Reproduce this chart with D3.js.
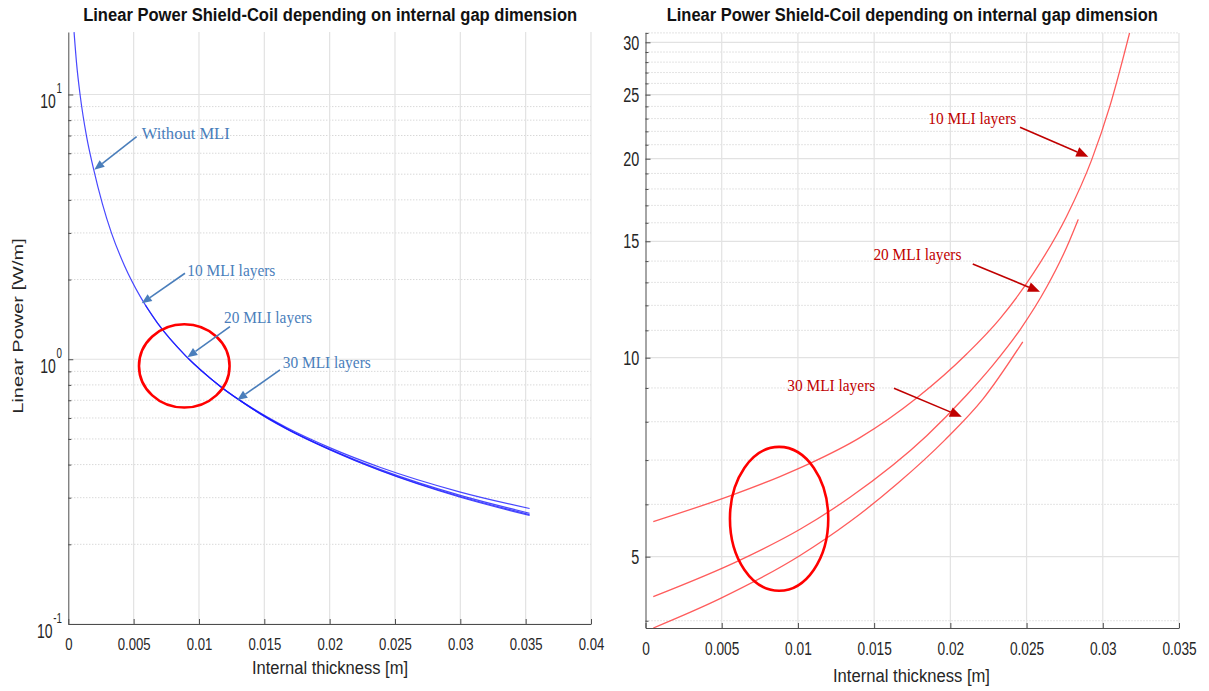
<!DOCTYPE html>
<html>
<head>
<meta charset="utf-8">
<script src="https://cdn.jsdelivr.net/npm/d3@7"></script>
<style>
  html, body { margin: 0; padding: 0; background: #fff; }
  svg { display: block; }
</style>
</head>
<body>
<svg id="chart" width="1209" height="691"></svg>
<script>
// ---------------- data ----------------
const chartTitle = "Linear Power Shield-Coil depending on internal gap dimension";
const xAxisTitle = "Internal thickness [m]";
const yAxisTitle = "Linear Power [W/m]";

// left panel: power vs internal thickness (log scale)
const leftXTicks = [0, 0.005, 0.01, 0.015, 0.02, 0.025, 0.03, 0.035, 0.04];
const leftXTickLabels = ["0", "0.005", "0.01", "0.015", "0.02", "0.025", "0.03", "0.035", "0.04"];
const leftYTicks = [0.1, 1, 10];
const leftYTickBase = ["10", "10", "10"];
const leftYTickExp = ["-1", "0", "1"];

const withoutMli = [
  [0.00044, 17.2], [0.00064, 13.0], [0.0009, 10.0], [0.0014, 6.93], [0.0019, 5.32],
  [0.0026, 3.88], [0.0033, 3.0], [0.0043, 2.256], [0.0055, 1.727], [0.0068, 1.375],
  [0.009, 1.028], [0.0116, 0.793], [0.0142, 0.648], [0.0167, 0.552], [0.020, 0.4635],
  [0.0239, 0.39], [0.030, 0.315], [0.0353, 0.273]
];
const tenMliLeft = [
  [0.0059, 1.60], [0.0068, 1.375], [0.009, 1.028], [0.0116, 0.792], [0.0142, 0.646],
  [0.0167, 0.548], [0.020, 0.458], [0.0239, 0.383], [0.030, 0.306], [0.0353, 0.262]
];
const twentyMliLeft = [
  [0.0092, 1.005], [0.0116, 0.791], [0.0142, 0.645], [0.0167, 0.546], [0.020, 0.456],
  [0.0239, 0.380], [0.030, 0.303], [0.0353, 0.259]
];
const thirtyMliLeft = [
  [0.013, 0.708], [0.0142, 0.644], [0.0167, 0.545], [0.020, 0.455], [0.0239, 0.379],
  [0.030, 0.301], [0.0353, 0.257]
];
const leftLabels = ["Without MLI", "10 MLI layers", "20 MLI layers", "30 MLI layers"];

// right panel: same quantity, zoomed range
const rightXTicks = [0, 0.005, 0.01, 0.015, 0.02, 0.025, 0.03, 0.035];
const rightXTickLabels = ["0", "0.005", "0.01", "0.015", "0.02", "0.025", "0.03", "0.035"];
const rightYTicks = [5, 10, 15, 20, 25, 30];
const rightYTickLabels = ["5", "10", "15", "20", "25", "30"];

const tenMliRight = [
  [0.00051, 5.65], [0.00554, 6.18], [0.00882, 6.61], [0.01079, 6.92], [0.01407, 7.57],
  [0.01779, 8.69], [0.02107, 10.13], [0.02326, 11.46], [0.02544, 13.41], [0.02763, 16.37],
  [0.02927, 19.92], [0.03047, 24.04], [0.03179, 31.2]
];
const twentyMliRight = [
  [0.00051, 4.35], [0.0062, 4.94], [0.01014, 5.50], [0.01342, 6.15], [0.01845, 7.62],
  [0.02107, 8.78], [0.02282, 9.76], [0.02457, 11.02], [0.02632, 12.79], [0.02763, 14.69],
  [0.02839, 16.19]
];
const thirtyMliRight = [
  [0.00051, 3.9], [0.00489, 4.32], [0.01014, 5.02], [0.01342, 5.65], [0.01653, 6.45],
  [0.01965, 7.51], [0.02216, 8.67], [0.02475, 10.57]
];
const rightLabels = ["10 MLI layers", "20 MLI layers", "30 MLI layers"];

// ---------------- drawing ----------------
const svg = d3.select("#chart");
const SANS = "'Liberation Sans', Arial, Helvetica, sans-serif";
const SERIF = "'Liberation Serif', 'Times New Roman', serif";
const AXIS_COLOR = "#4d4d4d";
const TEXT_COLOR = "#262626";

// narrow the glyph run of each text to a fraction of its natural width
function squeeze(sel, ratio) {
  sel.each(function () {
    const w = this.getComputedTextLength();
    this.setAttribute("textLength", (w * ratio).toFixed(2));
    this.setAttribute("lengthAdjust", "spacingAndGlyphs");
  });
}

const defs = svg.append("defs");

function arrowHead(g, x1, y1, x2, y2, len, half, color) {
  const a = Math.atan2(y2 - y1, x2 - x1);
  const bx = x2 - len * Math.cos(a), by = y2 - len * Math.sin(a);
  const nx = -Math.sin(a) * half, ny = Math.cos(a) * half;
  g.append("path")
    .attr("d", `M${x2},${y2}L${bx + nx},${by + ny}L${bx - nx},${by - ny}Z`)
    .attr("fill", color);
  g.append("line")
    .attr("x1", x1).attr("y1", y1).attr("x2", bx).attr("y2", by)
    .attr("stroke", color).attr("stroke-width", 1.6);
}

function drawPanel(p) {
  const g = svg.append("g");
  const x = p.x, y = p.y;
  const [x0, x1] = x.range();
  const [yb, yt] = y.range();

  // clip for curves
  defs.append("clipPath").attr("id", p.id + "-clip")
    .append("rect").attr("x", x0).attr("y", yt).attr("width", x1 - x0).attr("height", yb - yt);

  // minor horizontal grid (dotted)
  g.append("g").selectAll("line").data(p.yMinor).join("line")
    .attr("x1", x0).attr("x2", x1)
    .attr("y1", d => y(d)).attr("y2", d => y(d))
    .attr("stroke", "#c8c8c8").attr("stroke-width", 1).attr("stroke-dasharray", "1,2");

  // major grid
  g.append("g").selectAll("line").data(p.yTicks).join("line")
    .attr("x1", x0).attr("x2", x1)
    .attr("y1", d => y(d)).attr("y2", d => y(d))
    .attr("stroke", "#e2e2e2").attr("stroke-width", 1.2);
  g.append("g").selectAll("line").data(p.xTicks.filter(d => d > 0)).join("line")
    .attr("x1", d => x(d)).attr("x2", d => x(d))
    .attr("y1", yt).attr("y2", yb)
    .attr("stroke", "#e2e2e2").attr("stroke-width", 1.2);

  // curves
  const line = d3.line().x(d => x(d[0])).y(d => y(d[1])).curve(d3.curveMonotoneX);
  const cg = g.append("g").attr("clip-path", `url(#${p.id}-clip)`);
  p.series.forEach(s => {
    cg.append("path").datum(s).attr("d", line)
      .attr("fill", "none").attr("stroke", p.lineColor)
      .attr("stroke-width", p.lineWidth).attr("stroke-opacity", p.lineOpacity);
  });

  // highlighted region
  const e = p.ellipse;
  g.append("ellipse")
    .attr("cx", (x(e.x0) + x(e.x1)) / 2).attr("cy", (y(e.y0) + y(e.y1)) / 2)
    .attr("rx", (x(e.x1) - x(e.x0)) / 2).attr("ry", Math.abs(y(e.y0) - y(e.y1)) / 2)
    .attr("fill", "none").attr("stroke", "#ff0000").attr("stroke-width", 2.6);

  // axes (ticks pointing inward)
  const xAxis = g.append("g").attr("transform", `translate(0,${yb})`)
    .call(d3.axisBottom(x).tickValues(p.xTicks).tickSizeInner(-5).tickSizeOuter(0)
      .tickFormat((d, i) => p.xTickLabels[i]));
  xAxis.select(".domain").attr("stroke", AXIS_COLOR);
  xAxis.selectAll(".tick line").attr("stroke", AXIS_COLOR);
  xAxis.selectAll(".tick text")
    .attr("y", p.xLabelDy).attr("dy", null)
    .attr("font-family", SANS).attr("font-size", p.xLabelSize).attr("fill", TEXT_COLOR)
    .call(squeeze, p.xLabelSqueeze);

  const yAxis = g.append("g").attr("transform", `translate(${x0},0)`)
    .call(d3.axisLeft(y).tickValues(p.yTicks).tickSizeInner(-5).tickSizeOuter(0).tickFormat(""));
  yAxis.select(".domain").attr("stroke", AXIS_COLOR);
  yAxis.selectAll(".tick line").attr("stroke", AXIS_COLOR);
  const yMinorAxis = g.append("g").attr("transform", `translate(${x0},0)`)
    .call(d3.axisLeft(y).tickValues(p.yMinor).tickSizeInner(-3).tickSizeOuter(0).tickFormat(""));
  yMinorAxis.select(".domain").remove();
  yMinorAxis.selectAll(".tick line").attr("stroke", AXIS_COLOR);

  // title
  g.append("text")
    .attr("x", (x0 + x1) / 2 + p.titleShift).attr("y", 21)
    .attr("text-anchor", "middle")
    .attr("font-family", SANS).attr("font-weight", "bold").attr("font-size", 17.5)
    .attr("fill", "#111")
    .attr("textLength", p.titleWidth).attr("lengthAdjust", "spacingAndGlyphs")
    .text(chartTitle);

  // x axis title
  g.append("text")
    .attr("x", p.xTitleX).attr("y", p.xTitleY)
    .attr("text-anchor", "middle")
    .attr("font-family", SANS).attr("font-size", 18).attr("fill", TEXT_COLOR)
    .attr("textLength", p.xTitleWidth).attr("lengthAdjust", "spacingAndGlyphs")
    .text(xAxisTitle);

  // annotations
  const ag = g.append("g");
  p.notes.forEach(n => {
    arrowHead(ag, x(n.tail[0]), y(n.tail[1]), x(n.tip[0]), y(n.tip[1]), p.headLen, p.headHalf, p.noteColor);
    ag.append("text")
      .attr("x", x(n.at[0])).attr("y", y(n.at[1]))
      .attr("font-family", SERIF).attr("font-size", 16).attr("fill", p.noteColor)
      .attr("textLength", 88).attr("lengthAdjust", "spacingAndGlyphs")
      .text(n.label);
  });

  return g;
}

// ---- left panel ----
const xL = d3.scaleLinear().domain([0, 0.04]).range([68.3, 591]);
const yL = d3.scaleLog().domain([0.1, 17.22]).range([624, 32]);
const leftMinor = [];
[-1, 0, 1].forEach(e => { for (let k = 2; k <= 9; k++) { const v = k * Math.pow(10, e); if (v < 17.22) leftMinor.push(v); } });

const leftPanel = drawPanel({
  id: "left", x: xL, y: yL,
  xTicks: leftXTicks, xTickLabels: leftXTickLabels, yTicks: leftYTicks, yMinor: leftMinor,
  xLabelDy: 26, xLabelSize: 16, xLabelSqueeze: 0.82,
  series: [withoutMli, tenMliLeft, twentyMliLeft, thirtyMliLeft],
  lineColor: "#1a1aff", lineWidth: 1.2, lineOpacity: 0.8,
  ellipse: { x0: 0.00541, x1: 0.01234, y0: 0.657, y1: 1.355 },
  titleShift: 0.5, titleWidth: 494,
  xTitleX: 330, xTitleY: 674, xTitleWidth: 156,
  noteColor: "#4a7ebb", headLen: 10, headHalf: 4.2,
  notes: [
    { label: leftLabels[0], at: [0.00562, 6.77], tail: [0.00523, 6.93], tip: [0.00199, 5.2] },
    { label: leftLabels[1], at: [0.00911, 2.063], tail: [0.00893, 2.112], tip: [0.00562, 1.627] },
    { label: leftLabels[2], at: [0.01192, 1.374], tail: [0.01237, 1.327], tip: [0.00911, 1.017] },
    { label: leftLabels[3], at: [0.01641, 0.924], tail: [0.0162, 0.911], tip: [0.01293, 0.702] }
  ]
});

// y tick labels of the left panel as powers of ten (base + raised exponent in one text)
leftYTicks.forEach((v, i) => {
  const ty = yL(v);
  const t = leftPanel.append("text")
    .attr("transform", `translate(62,${ty + 13.7}) scale(0.7,1)`)
    .attr("text-anchor", "end")
    .attr("font-family", SANS).attr("fill", TEXT_COLOR);
  t.append("tspan").attr("font-size", 20).text(leftYTickBase[i]);
  t.append("tspan").attr("font-size", 14).attr("dx", 1).attr("dy", -15).text(leftYTickExp[i]);
});

// y axis title
leftPanel.append("text")
  .attr("transform", "translate(23.3,326) scale(0.74,1) rotate(-90)")
  .attr("text-anchor", "middle")
  .attr("font-family", SANS).attr("font-size", 20).attr("fill", TEXT_COLOR)
  .text(yAxisTitle);

// ---- right panel ----
const xR = d3.scaleLinear().domain([0, 0.035]).range([645.5, 1179]);
const yR = d3.scaleLog().domain([3.9, 31]).range([628, 32.9]);
const rightMinor = d3.range(4, 32).filter(v => v % 5 !== 0 && v <= 31);

const rightPanel = drawPanel({
  id: "right", x: xR, y: yR,
  xTicks: rightXTicks, xTickLabels: rightXTickLabels, yTicks: rightYTicks, yMinor: rightMinor,
  xLabelDy: 27, xLabelSize: 18, xLabelSqueeze: 0.76,
  series: [tenMliRight, twentyMliRight, thirtyMliRight],
  lineColor: "#ff4040", lineWidth: 1.3, lineOpacity: 0.85,
  ellipse: { x0: 0.00554, x1: 0.01199, y0: 4.44, y1: 7.33 },
  titleShift: 0, titleWidth: 491,
  xTitleX: 911.5, xTitleY: 682, xTitleWidth: 157,
  noteColor: "#c00000", headLen: 12, headHalf: 5,
  notes: [
    { label: rightLabels[0], at: [0.01855, 22.58], tail: [0.02457, 22.32], tip: [0.02905, 20.14] },
    { label: rightLabels[1], at: [0.01495, 14.05], tail: [0.02147, 13.86], tip: [0.02588, 12.58] },
    { label: rightLabels[2], at: [0.0093, 8.89], tail: [0.0163, 8.99], tip: [0.02075, 8.14] }
  ]
});

rightYTicks.forEach((v, i) => {
  const t = rightPanel.append("text")
    .attr("x", 639.3).attr("y", yR(v)).attr("dy", "0.36em").attr("text-anchor", "end")
    .attr("font-family", SANS).attr("font-size", 20).attr("fill", TEXT_COLOR)
    .text(rightYTickLabels[i]);
  squeeze(t, 0.72);
});
</script>
</body>
</html>
